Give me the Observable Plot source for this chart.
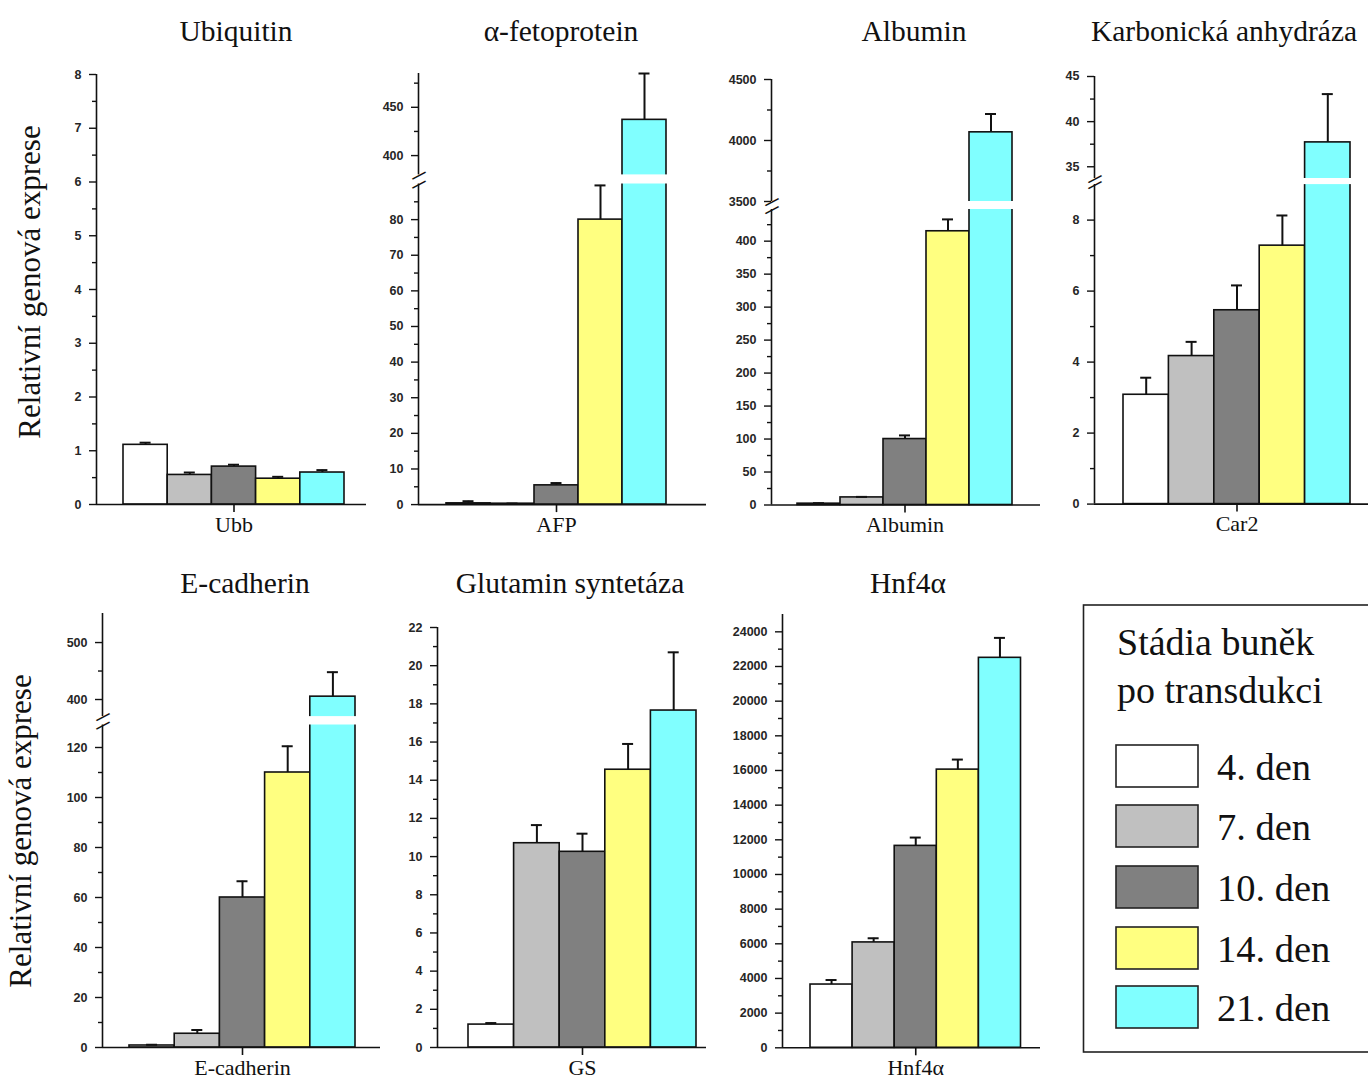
<!DOCTYPE html>
<html>
<head>
<meta charset="utf-8">
<script src="https://cdn.jsdelivr.net/npm/d3@7"></script>
<script src="https://cdn.jsdelivr.net/npm/@observablehq/plot@0.6"></script>
<style>
  body { margin: 0; background: #fff; }
  #fig { position: relative; width: 1368px; height: 1079px; overflow: hidden; background: #fff; }
  #fig > svg.panel { position: absolute; }
  #overlay { position: absolute; left: 0; top: 0; pointer-events: none; }
</style>
</head>
<body>
<div id="fig"></div>
<script>
// Cell stages after transduction (legend categories) and their fills
const days = ["4. den", "7. den", "10. den", "14. den", "21. den"];
const dayColors = ["#ffffff", "#c0c0c0", "#808080", "#ffff80", "#80ffff"];

// Ubiquitin (Ubb)
const ubbMean = [1.11, 0.55, 0.705, 0.48, 0.595];
const ubbSd = [0.04, 0.045, 0.035, 0.035, 0.045];
const ubbMajor = [0, 1, 2, 3, 4, 5, 6, 7, 8];
const ubbMinor = [0.5, 1.5, 2.5, 3.5, 4.5, 5.5, 6.5, 7.5];
const ubbDomain = [0, 8];

// α-fetoprotein (AFP), broken axis
const afpMean = [0.35, 0.25, 5.4, 80, 437];
const afpSd = [0.6, 0.05, 0.65, 9.6, 48];
const afpMajor = [0, 10, 20, 30, 40, 50, 60, 70, 80, 400, 450];
const afpMinor = [5, 15, 25, 35, 45, 55, 65, 75, 85, 425, 475];
const afpDomain = [0, 90, 380, 485];

// Albumin, broken axis
const albMean = [2, 11.5, 100, 415, 4067];
const albSd = [0.8, 0.8, 5.5, 18, 150];
const albMajor = [0, 50, 100, 150, 200, 250, 300, 350, 400, 3500, 4000, 4500];
const albMinor = [25, 75, 125, 175, 225, 275, 325, 375, 425, 3750, 4250];
const albDomain = [0, 448, 3500, 4500];

// Carbonic anhydrase (Car2), broken axis
const car2Mean = [3.08, 4.17, 5.46, 7.28, 37.7];
const car2Sd = [0.48, 0.40, 0.70, 0.85, 5.35];
const car2Major = [0, 2, 4, 6, 8, 35, 40, 45];
const car2Minor = [1, 3, 5, 7, 37.5, 42.5];
const car2Domain = [0, 9, 33.7, 45];

// E-cadherin, broken axis
const ecadMean = [0.8, 5.5, 60, 110, 405];
const ecadSd = [0.3, 1.5, 6.5, 10.5, 43];
const ecadMajor = [0, 20, 40, 60, 80, 100, 120, 400, 500];
const ecadMinor = [10, 30, 50, 70, 90, 110, 450];
const ecadDomain = [0, 129, 370, 551];

// Glutamine synthetase (GS)
const gsMean = [1.2, 10.7, 10.25, 14.55, 17.65];
const gsSd = [0.08, 0.95, 0.95, 1.35, 3.05];
const gsMajor = [0, 2, 4, 6, 8, 10, 12, 14, 16, 18, 20, 22];
const gsMinor = [1, 3, 5, 7, 9, 11, 13, 15, 17, 19, 21];
const gsDomain = [0, 22];

// Hnf4α
const hnfMean = [3650, 6080, 11650, 16050, 22500];
const hnfSd = [260, 240, 480, 580, 1150];
const hnfMajor = [0, 2000, 4000, 6000, 8000, 10000, 12000, 14000, 16000, 18000, 20000, 22000, 24000];
const hnfMinor = [1000, 3000, 5000, 7000, 9000, 11000, 13000, 15000, 17000, 19000, 21000, 23000];
const hnfDomain = [0, 25000];

const titles = ["Ubiquitin", "α-fetoprotein", "Albumin", "Karbonická anhydráza",
                "E-cadherin", "Glutamin syntetáza", "Hnf4α"];
const genes = ["Ubb", "AFP", "Albumin", "Car2", "E-cadherin", "GS", "Hnf4α"];

// Page placement of each panel: y-axis x, right end of x-axis, first bar edge,
// bar width, and page y of each domain stop of the y scale.
const layouts = [
  {axisX: 96,  rightX: 366,  barLeft: 123,  barW: 44.2, yPx: [504, 74]},
  {axisX: 418, rightX: 706,  barLeft: 446,  barW: 44,   yPx: [504, 183.4, 174.3, 72.9]},
  {axisX: 771, rightX: 1040, barLeft: 797,  barW: 43,   yPx: [504, 208.5, 200.5, 78.5]},
  {axisX: 1094, rightX: 1368, barLeft: 1123, barW: 45.4, yPx: [504, 184.5, 178.4, 76.4]},
  {axisX: 102, rightX: 380,  barLeft: 129,  barW: 45.2, yPx: [1047, 724.5, 716.1, 613]},
  {axisX: 437, rightX: 706,  barLeft: 468,  barW: 45.6, yPx: [1047, 627]},
  {axisX: 782, rightX: 1040, barLeft: 810,  barW: 42.1, yPx: [1047, 613.7]}
];

const panels = [
  {mean: ubbMean,  sd: ubbSd,  major: ubbMajor,  minor: ubbMinor,  domain: ubbDomain},
  {mean: afpMean,  sd: afpSd,  major: afpMajor,  minor: afpMinor,  domain: afpDomain},
  {mean: albMean,  sd: albSd,  major: albMajor,  minor: albMinor,  domain: albDomain},
  {mean: car2Mean, sd: car2Sd, major: car2Major, minor: car2Minor, domain: car2Domain},
  {mean: ecadMean, sd: ecadSd, major: ecadMajor, minor: ecadMinor, domain: ecadDomain},
  {mean: gsMean,   sd: gsSd,   major: gsMajor,   minor: gsMinor,   domain: gsDomain},
  {mean: hnfMean,  sd: hnfSd,  major: hnfMajor,  minor: hnfMinor,  domain: hnfDomain}
].map((p, k) => ({...p, gene: genes[k], layout: layouts[k]}));

const fig = document.getElementById("fig");
const INK = "#111";

function drawPanel(p) {
  const L = p.layout;
  const ML = 56, MR = 4, MT = 8, MB = 40;
  const top = Math.min(...L.yPx) - MT;
  const height = Math.max(...L.yPx) + MB - top;
  const width = L.rightX - L.axisX + ML + MR;
  const n = p.mean.length;
  const lo = -(L.barLeft - L.axisX) / L.barW;
  const hi = n + (L.rightX - (L.barLeft + n * L.barW)) / L.barW;
  const mid = n / 2;
  const cap = 5.5 / L.barW;
  const rows = days.map((d, i) => ({day: d, i, mean: p.mean[i], top: p.mean[i] + p.sd[i]}));
  const broken = p.domain.length === 4;
  const segments = broken ? [[p.domain[0], p.domain[1]], [p.domain[2], p.domain[3]]]
                          : [[p.domain[0], p.domain[1]]];

  const marks = [
    // bars
    Plot.rect(rows, {x1: "i", x2: d => d.i + 1, y1: () => 0, y2: "mean",
      fill: "day", stroke: INK, strokeWidth: 1.6}),
    // upper error bars with caps
    Plot.ruleX(rows, {x: d => d.i + 0.5, y1: "mean", y2: "top", stroke: INK, strokeWidth: 2}),
    Plot.ruleY(rows, {y: "top", x1: d => d.i + 0.5 - cap, x2: d => d.i + 0.5 + cap,
      stroke: INK, strokeWidth: 2})
  ];
  if (broken) {
    // white gap across the axis break
    marks.push(Plot.rect([p.domain], {x1: () => lo, x2: () => hi,
      y1: d => d[1], y2: d => d[2], fill: "white"}));
  }
  marks.push(
    Plot.ruleX(segments, {x: () => lo, y1: d => d[0], y2: d => d[1], stroke: INK, strokeWidth: 1.6}),
    Plot.ruleY([0], {stroke: INK, strokeWidth: 1.6}),
    Plot.axisY(p.major, {tickSize: 7, tickPadding: 8, tickFormat: d => String(d),
      fontSize: 12.5, fontWeight: "bold", fontFamily: "Liberation Sans",
      fill: "#262626", stroke: INK, strokeWidth: 1.4, label: null}),
    Plot.axisY(p.minor, {tickSize: 4, fill: "none", stroke: INK, strokeWidth: 1.4, label: null}),
    Plot.axisX([mid], {tickSize: 8, fill: "none", stroke: INK, strokeWidth: 1.6, label: null}),
    Plot.text([p.gene], {x: () => mid, frameAnchor: "bottom", lineAnchor: "bottom", dy: 27,
      fontSize: 22, fontFamily: "Liberation Serif", fill: INK})
  );
  if (broken) {
    marks.push(Plot.text([p.domain[1], p.domain[2]], {x: () => lo, y: d => d, text: () => "\u2014",
      rotate: -28, fontSize: 15, fontWeight: "bold", fontFamily: "Liberation Sans", fill: INK}));
  }

  const svg = Plot.plot({
    width, height,
    marginLeft: ML, marginRight: MR, marginTop: MT, marginBottom: MB,
    x: {type: "linear", domain: [lo, hi]},
    y: {type: "linear", domain: p.domain, range: L.yPx.map(v => v - top)},
    color: {domain: days, range: dayColors},
    style: {background: "transparent", overflow: "visible", fontFamily: "Liberation Sans"},
    marks
  });
  svg.classList.add("panel");
  svg.style.left = (L.axisX - ML) + "px";
  svg.style.top = top + "px";
  fig.appendChild(svg);
}

panels.forEach(drawPanel);

// Titles, y-axis titles and the legend
const overlay = d3.select(fig).append("svg")
  .attr("id", "overlay").attr("width", 1368).attr("height", 1079)
  .style("font-family", "'Liberation Serif', serif").style("fill", INK);

const titlePos = [[236, 41], [561, 41], [914, 41], [1224, 41], [245, 593], [570, 593], [908, 593]];
overlay.selectAll("text.title").data(titles).join("text")
  .attr("class", "title")
  .attr("x", (d, i) => titlePos[i][0]).attr("y", (d, i) => titlePos[i][1])
  .attr("text-anchor", "middle").attr("font-size", 29.5)
  .text(d => d);

const yTitle = "Relativní genová exprese";
[[40, 282], [31, 831]].forEach(([x, y]) => {
  overlay.append("text")
    .attr("transform", `translate(${x},${y}) rotate(-90)`)
    .attr("text-anchor", "middle").attr("font-size", 31)
    .text(yTitle);
});

const legend = overlay.append("g");
legend.append("rect")
  .attr("x", 1083.5).attr("y", 605).attr("width", 300).attr("height", 447)
  .attr("fill", "none").attr("stroke", "#222").attr("stroke-width", 1.6);
legend.selectAll("text.lt").data(["Stádia buněk", "po transdukci"]).join("text")
  .attr("class", "lt").attr("x", 1117).attr("y", (d, i) => 655 + i * 48)
  .attr("font-size", 38).text(d => d);
const swatchY = [745, 805, 866, 927, 986];
legend.selectAll("rect.sw").data(days).join("rect")
  .attr("class", "sw").attr("x", 1116).attr("y", (d, i) => swatchY[i])
  .attr("width", 82).attr("height", 42)
  .attr("fill", (d, i) => dayColors[i]).attr("stroke", "#222").attr("stroke-width", 1.6);
legend.selectAll("text.sl").data(days).join("text")
  .attr("class", "sl").attr("x", 1217).attr("y", (d, i) => swatchY[i] + 35)
  .attr("font-size", 38.5).text(d => d);
</script>
</body>
</html>
